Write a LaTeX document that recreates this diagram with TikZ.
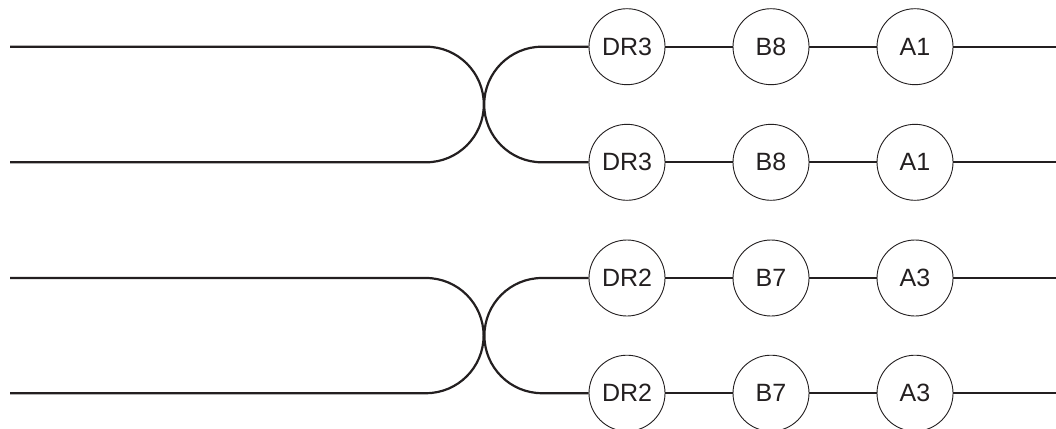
\documentclass[tikz,border=0pt]{standalone}
\usepackage{fontspec}
\setmainfont{Liberation Sans}
\definecolor{ink}{HTML}{231F20}
\begin{document}
\begin{tikzpicture}
  [x=1pt,y=1pt,
   stationN/.style={circle,draw=ink,line width=0.9pt,minimum size=76pt,inner sep=0pt,
                    fill=white,text=ink,font=\fontsize{25}{25}\selectfont},
   wire/.style={draw=ink,line width=2.2pt}]

  \useasboundingbox (0,0) rectangle (1056,-428);

  % upper pair
  \coordinate (lt1) at (10,-46.7);
  \coordinate (lb1) at (10,-162.3);
  \coordinate (ct1) at (426,-46.7);
  \coordinate (rt1) at (542,-46.7);
  \coordinate (et1) at (1056,-46.7);
  \coordinate (eb1) at (1056,-162.3);

  % lower pair
  \coordinate (lt2) at (10,-278);
  \coordinate (lb2) at (10,-393.2);
  \coordinate (ct2) at (426,-278);
  \coordinate (rt2) at (542,-278);
  \coordinate (et2) at (1056,-278);
  \coordinate (eb2) at (1056,-393.2);

  \node[stationN] (dr3a) at (627,-46.7)  {DR3};
  \node[stationN] (b8a)  at (771,-46.7)  {B8};
  \node[stationN] (a1a)  at (915,-46.7)  {A1};
  \node[stationN] (dr3b) at (627,-162.3) {DR3};
  \node[stationN] (b8b)  at (771,-162.3) {B8};
  \node[stationN] (a1b)  at (915,-162.3) {A1};

  \node[stationN] (dr2a) at (627,-278)   {DR2};
  \node[stationN] (b7a)  at (771,-278)   {B7};
  \node[stationN] (a3a)  at (915,-278)   {A3};
  \node[stationN] (dr2b) at (627,-393.2) {DR2};
  \node[stationN] (b7b)  at (771,-393.2) {B7};
  \node[stationN] (a3b)  at (915,-393.2) {A3};

  % loops
  \draw [wire] (lt1) -- (ct1) arc[start angle=90,end angle=-90,radius=57.8] -- (lb1);
  \draw [wire] (dr3a) -- (rt1) arc[start angle=90,end angle=270,radius=57.8] -- (dr3b);
  \draw [wire] (lt2) -- (ct2) arc[start angle=90,end angle=-90,radius=57.6] -- (lb2);
  \draw [wire] (dr2a) -- (rt2) arc[start angle=90,end angle=270,radius=57.6] -- (dr2b);

  % links
  \draw [wire] (dr3a) -- (b8a); \draw [wire] (b8a) -- (a1a); \draw [wire] (a1a) -- (et1);
  \draw [wire] (dr3b) -- (b8b); \draw [wire] (b8b) -- (a1b); \draw [wire] (a1b) -- (eb1);
  \draw [wire] (dr2a) -- (b7a); \draw [wire] (b7a) -- (a3a); \draw [wire] (a3a) -- (et2);
  \draw [wire] (dr2b) -- (b7b); \draw [wire] (b7b) -- (a3b); \draw [wire] (a3b) -- (eb2);
\end{tikzpicture}
\end{document}
